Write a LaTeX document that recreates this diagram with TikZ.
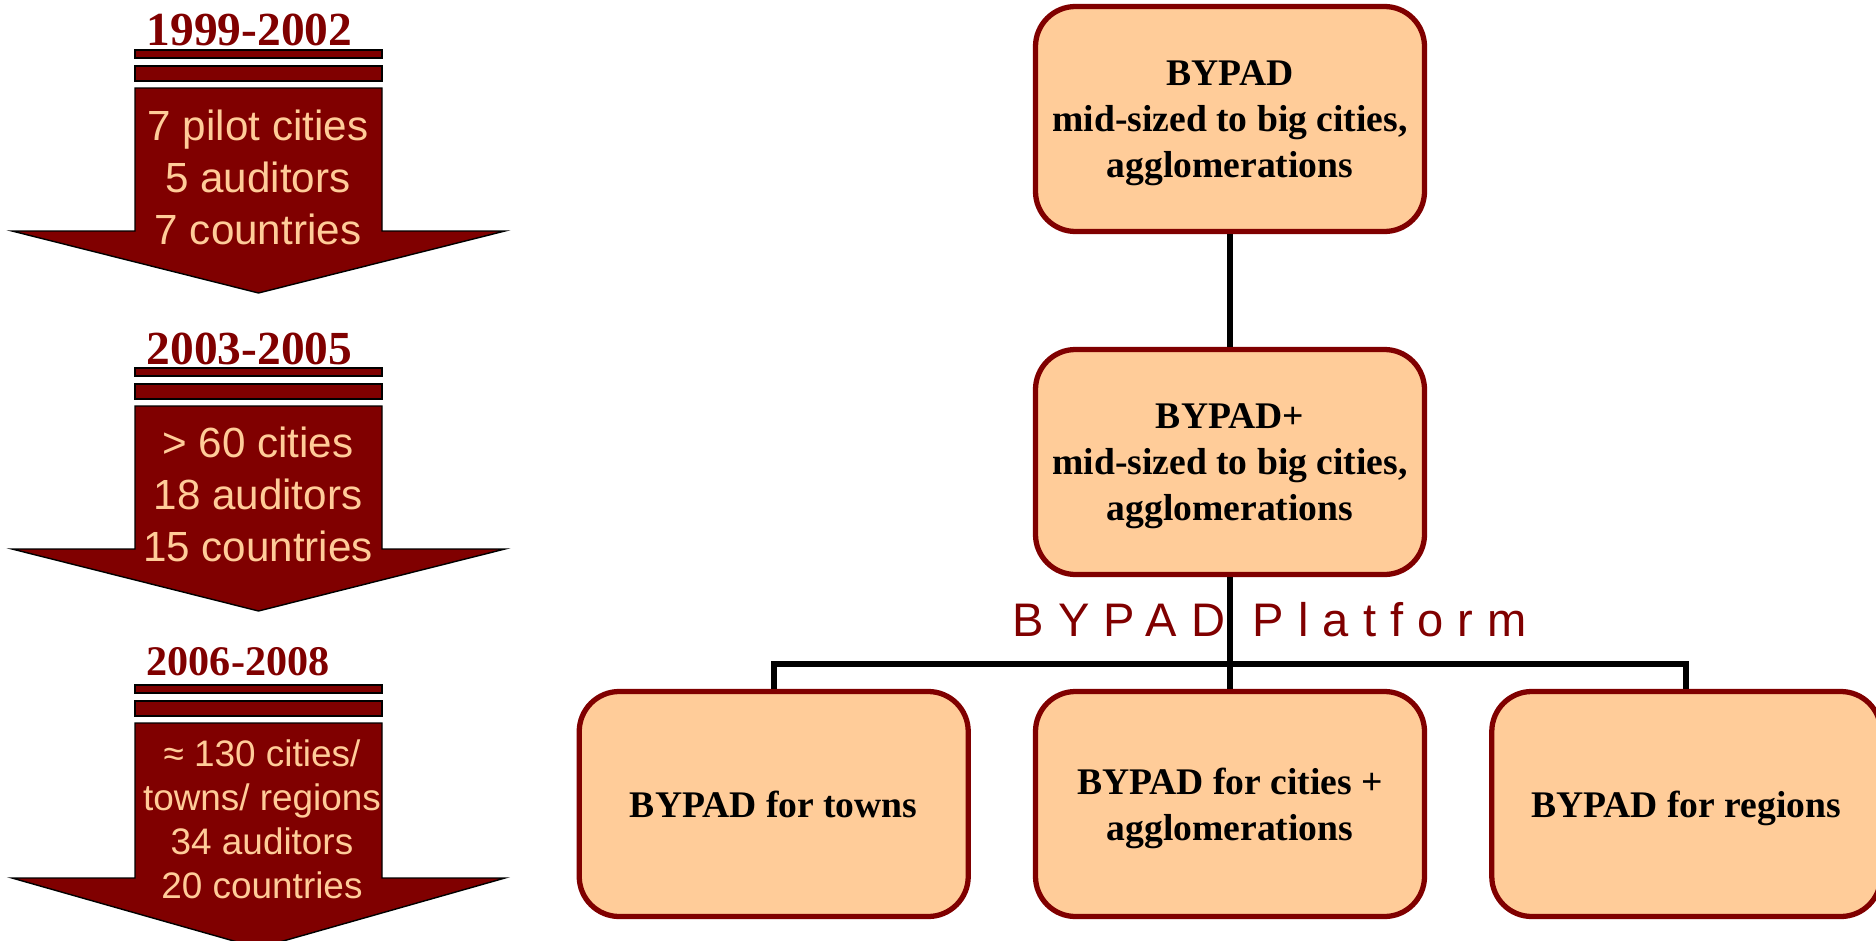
\documentclass[tikz,border=0pt]{standalone}
\usepackage{fontspec}
\setmainfont{Liberation Serif}
\setsansfont{Liberation Sans}
\newfontfamily\spacedsans[LetterSpace=30]{Liberation Sans}
\usepackage{tikz}
\usetikzlibrary{positioning}
\definecolor{bydark}{rgb}{0.5,0,0}
\definecolor{bypeach}{RGB}{255,204,153}

\tikzset{
  stage/.style={fill=bydark, draw=black, line width=0.4pt},
  tool/.style={draw=bydark, line width=1.5pt, fill=bypeach, rounded corners=0.4cm,
    minimum width=3.89cm, minimum height=2.25cm, inner sep=0pt, align=center,
    text depth=0pt, font=\fontsize{10.7}{13}\selectfont\bfseries},
  conn/.style={line width=1.6pt},
  year/.style={text=bydark, anchor=base west, inner sep=0pt,
    font=\fontsize{13.5}{15}\selectfont\bfseries},
  stats/.style={text=bypeach, align=center, inner sep=0pt,
    font=\sffamily\fontsize{12}{14.8}\selectfont}
}

\begin{document}
\begin{tikzpicture}
\useasboundingbox (0,0) rectangle (18.76,9.40);

% timeline arrows
\foreach \ytop/\ysh/\yhd in {8.90/7.09/0.62, 5.72/3.91/0.62, 2.55/0.62/0.70} {
  \draw[stage] (1.35,\ytop) rectangle (3.82,\ytop-0.08);
  \draw[stage] (1.35,\ytop-0.16) rectangle (3.82,\ytop-0.31);
  \draw[stage] (1.35,\ytop-0.38) -- (3.82,\ytop-0.38) -- (3.82,\ysh) -- (5.05,\ysh)
    -- (2.585,\ysh-\yhd) -- (0.12,\ysh) -- (1.35,\ysh) -- cycle;
}

\node[year] (year1) at (1.46,8.95) {1999-2002};
\node[year] (year2) at (1.46,5.76) {2003-2005};
\node[year, font=\fontsize{12}{14}\selectfont\bfseries] (year3) at (1.46,2.65) {2006-2008};

\node[stats] (stats1) at (2.58,7.63) {7 pilot cities\\5 auditors\\7 countries};
\node[stats] (stats2) at (2.58,4.46) {> 60 cities\\18 auditors\\15 countries};
\node[stats, font=\sffamily\fontsize{10.5}{12.5}\selectfont] (stats3) at (2.62,1.21)
  {≈ 130 cities/\\towns/ regions\\34 auditors\\20 countries};

% tool family
\node[tool] (top) at (12.30,8.21) {BYPAD\\mid-sized to big cities,\\agglomerations};
\node[tool] (mid) at (12.30,4.78) {BYPAD+\\mid-sized to big cities,\\agglomerations};
\node[tool] (cities) at (12.30,1.36) {BYPAD for cities +\\agglomerations};
\node[tool] (towns) [left=0.62cm of cities] {BYPAD for towns};
\node[tool] (regions) [right=0.62cm of cities] {BYPAD for regions};

\coordinate (bus) at (12.30,2.76);
\draw[conn] (top) -- (mid);
\draw[conn] (mid) -- (cities);
\draw[conn] (towns.north) |- (bus) -| (regions.north);

\node[text=bydark, anchor=base west, inner sep=0pt, font=\spacedsans\fontsize{13.4}{15}\selectfont]
  (platform) at (10.12,3.04) {BYPAD Platform};

\end{tikzpicture}
\end{document}
